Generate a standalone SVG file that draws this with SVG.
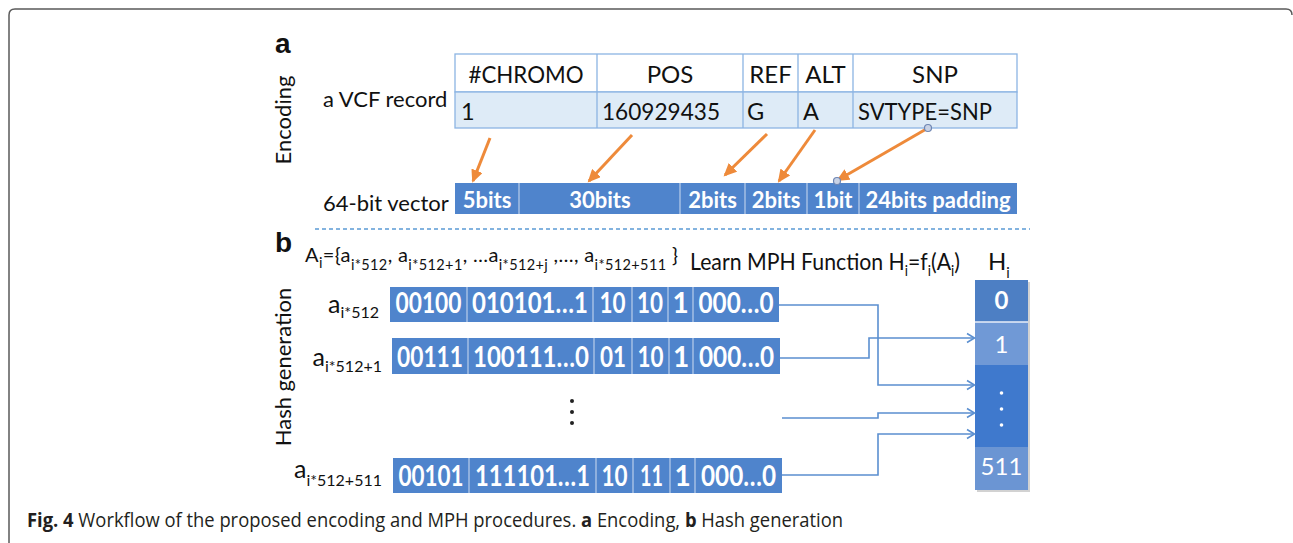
<svg xmlns="http://www.w3.org/2000/svg" width="1293" height="543" viewBox="0 0 1293 543">
<style>
text{font-family:Lato,"Open Sans","Liberation Sans",sans-serif;fill:#111}
.lab{font-size:22px}
.hdr{font-size:24px;text-anchor:middle}
.cell{font-size:23.5px}
.vb{font-size:22px;font-weight:700;fill:#fff;text-anchor:middle}
.rb{font-size:28px;font-weight:700;fill:#fff;text-anchor:middle}
.sub{font-size:14.5px}
.lsub{font-size:16px}
.bar{fill:#4f84cc}
.div{stroke:#b9cdea;stroke-width:1.2}
.conn{fill:none;stroke:#5b8fd0;stroke-width:1.6}
.orange{stroke:#EE8A3A;stroke-width:3;fill:none}
</style>
<defs>
<marker id="oa" markerWidth="14" markerHeight="12" refX="11" refY="6" orient="auto" markerUnits="userSpaceOnUse"><path d="M0,0 L13,6 L0,12 z" fill="#EE8A3A"/></marker>
<marker id="ba" markerWidth="12" markerHeight="12" refX="9" refY="6" orient="auto" markerUnits="userSpaceOnUse"><path d="M2,1.5 L9.5,6 L2,10.5" fill="none" stroke="#5b8fd0" stroke-width="1.6"/></marker>
</defs>
<rect width="1293" height="543" fill="#fff"/>
<path d="M9,543 V15 Q9,9 15,9 H1286 Q1292,9 1292,15" fill="none" stroke="#5a5a5a" stroke-width="1.5"/>

<text x="275" y="53" style="font-family:'Liberation Sans',Arial,sans-serif;font-weight:700;font-size:28px">a</text>
<text transform="translate(291,120) rotate(-90)" class="lab" text-anchor="middle">Encoding</text>
<text x="323" y="107" class="lab">a VCF record</text>
<text x="323" y="211" class="lab">64-bit vector</text>

<g id="vcf-table">
<rect x="455" y="54" width="562" height="38" fill="#fff" stroke="#8cb4e3" stroke-width="1.3"/>
<rect x="455" y="92" width="562" height="36" fill="#deebf7" stroke="#8cb4e3" stroke-width="1.3"/>
<path d="M597,54V128M743,54V128M798,54V128M853,54V128" stroke="#8cb4e3" stroke-width="1.3"/>
<text x="526" y="83" class="hdr" textLength="115" lengthAdjust="spacingAndGlyphs">#CHROMO</text>
<text x="670" y="83" class="hdr">POS</text>
<text x="770.5" y="83" class="hdr">REF</text>
<text x="825.5" y="83" class="hdr">ALT</text>
<text x="935" y="83" class="hdr">SNP</text>
<text x="461" y="120" class="cell">1</text>
<text x="602" y="120" class="cell" textLength="118" lengthAdjust="spacingAndGlyphs">160929435</text>
<text x="747" y="120" class="cell">G</text>
<text x="803" y="120" class="cell">A</text>
<text x="858" y="120" class="cell" textLength="134" lengthAdjust="spacingAndGlyphs">SVTYPE=SNP</text>
</g>

<g id="vector-64">
<rect x="455" y="183" width="562" height="31" class="bar"/>
<path d="M519,183V214M680,183V214M745,183V214M807,183V214M859,183V214" class="div"/>
<text x="487" y="208" class="vb">5bits</text>
<text x="600" y="208" class="vb">30bits</text>
<text x="712.5" y="208" class="vb">2bits</text>
<text x="776" y="208" class="vb">2bits</text>
<text x="833" y="208" class="vb">1bit</text>
<text x="938" y="208" class="vb">24bits padding</text>
</g>

<g id="encoding-arrows">
<line x1="490" y1="138" x2="473" y2="181" class="orange" marker-end="url(#oa)"/>
<line x1="632" y1="135" x2="589" y2="181" class="orange" marker-end="url(#oa)"/>
<line x1="767" y1="134" x2="725" y2="175" class="orange" marker-end="url(#oa)"/>
<line x1="815" y1="130" x2="779" y2="181" class="orange" marker-end="url(#oa)"/>
<line x1="928" y1="128" x2="838" y2="180" class="orange" marker-end="url(#oa)"/>
<circle cx="928" cy="128" r="3.5" fill="#c9d3e6" stroke="#6f86b3" stroke-width="1.2"/>
<circle cx="837" cy="181" r="3.5" fill="#c9d3e6" stroke="#6f86b3" stroke-width="1.2"/>
</g>

<line x1="315" y1="229" x2="1030" y2="229" stroke="#5b9bd5" stroke-width="1.3" stroke-dasharray="4,3"/>

<text x="275" y="252" style="font-family:'Liberation Sans',Arial,sans-serif;font-weight:700;font-size:28px">b</text>
<text transform="translate(291,367) rotate(-90)" class="lab" text-anchor="middle">Hash generation</text>

<text x="305" y="262" style="font-size:20px" textLength="373" lengthAdjust="spacing">A<tspan class="sub" dy="6">i</tspan><tspan dy="-6">={a</tspan><tspan class="sub" dy="8">i*512</tspan><tspan dy="-8">, a</tspan><tspan class="sub" dy="8">i*512+1</tspan><tspan dy="-8">, …a</tspan><tspan class="sub" dy="8">i*512+j</tspan><tspan dy="-8"> ,…, a</tspan><tspan class="sub" dy="8">i*512+511</tspan><tspan dy="-8"> }</tspan></text>
<text x="690" y="270" style="font-size:23px" textLength="270" lengthAdjust="spacingAndGlyphs">Learn MPH Function H<tspan class="sub" dy="6">i</tspan><tspan dy="-6">=f</tspan><tspan class="sub" dy="6">i</tspan><tspan dy="-6">(A</tspan><tspan class="sub" dy="6">i</tspan><tspan dy="-6">)</tspan></text>
<text x="988" y="270" style="font-size:24px">H<tspan class="sub" dy="8">i</tspan></text>

<g id="row-0">
<text x="379" y="313" text-anchor="end" style="font-size:25px">a<tspan class="lsub" dy="5">i*512</tspan></text>
<rect x="390" y="287" width="389" height="35" class="bar"/>
<path d="M467,287V322M593,287V322M632,287V322M668,287V322M693,287V322" class="div"/>
<text x="428.5" y="313" class="rb" textLength="66" lengthAdjust="spacingAndGlyphs">00100</text>
<text x="530" y="313" class="rb" textLength="116" lengthAdjust="spacingAndGlyphs">010101…1</text>
<text x="612.5" y="313" class="rb" textLength="26" lengthAdjust="spacingAndGlyphs">10</text>
<text x="650" y="313" class="rb" textLength="26" lengthAdjust="spacingAndGlyphs">10</text>
<text x="680.5" y="313" class="rb">1</text>
<text x="736" y="313" class="rb" textLength="75" lengthAdjust="spacingAndGlyphs">000…0</text>
</g>

<g id="row-1">
<text x="382" y="366" text-anchor="end" style="font-size:25px">a<tspan class="lsub" dy="6">i*512+1</tspan></text>
<rect x="392" y="338" width="388" height="36" class="bar"/>
<path d="M468,338V374M594,338V374M632,338V374M669,338V374M693,338V374" class="div"/>
<text x="430" y="367" class="rb" textLength="66" lengthAdjust="spacingAndGlyphs">00111</text>
<text x="531" y="367" class="rb" textLength="116" lengthAdjust="spacingAndGlyphs">100111…0</text>
<text x="613" y="367" class="rb" textLength="26" lengthAdjust="spacingAndGlyphs">01</text>
<text x="650.5" y="367" class="rb" textLength="26" lengthAdjust="spacingAndGlyphs">10</text>
<text x="681" y="367" class="rb">1</text>
<text x="736.5" y="367" class="rb" textLength="75" lengthAdjust="spacingAndGlyphs">000…0</text>
</g>

<g id="ellipsis">
<circle cx="572" cy="401" r="2" fill="#222"/>
<circle cx="572" cy="412" r="2" fill="#222"/>
<circle cx="572" cy="423" r="2" fill="#222"/>
</g>

<g id="row-511">
<text x="382" y="478" text-anchor="end" style="font-size:25px">a<tspan class="lsub" dy="8">i*512+511</tspan></text>
<rect x="393" y="458" width="389" height="35" class="bar"/>
<path d="M469,458V493M596,458V493M633,458V493M670,458V493M695,458V493" class="div"/>
<text x="431" y="486" class="rb" textLength="65" lengthAdjust="spacingAndGlyphs">00101</text>
<text x="532.5" y="486" class="rb" textLength="115" lengthAdjust="spacingAndGlyphs">111101…1</text>
<text x="614.5" y="486" class="rb" textLength="26" lengthAdjust="spacingAndGlyphs">10</text>
<text x="651.5" y="486" class="rb" textLength="23" lengthAdjust="spacingAndGlyphs">11</text>
<text x="682.5" y="486" class="rb">1</text>
<text x="738.5" y="486" class="rb" textLength="75" lengthAdjust="spacingAndGlyphs">000…0</text>
</g>

<g id="hash-table">
<rect x="977" y="282" width="53" height="210" fill="#d2d2d2"/>
<rect x="975" y="280" width="53" height="42" fill="#4d7fc4"/>
<rect x="975" y="322" width="53" height="43" fill="#7099d6"/>
<rect x="975" y="365" width="53" height="82" fill="#3f79cd"/>
<rect x="975" y="447" width="53" height="43" fill="#6b95d3"/>
<line x1="975" y1="322" x2="1028" y2="322" stroke="#e8eef8" stroke-width="1.5"/>
<text x="1001.5" y="309" text-anchor="middle" style="font-size:24px;font-weight:700;fill:#fff">0</text>
<text x="1001.5" y="353" text-anchor="middle" style="font-size:24px;fill:#fff">1</text>
<circle cx="1001.5" cy="393" r="1.8" fill="#fff"/>
<circle cx="1001.5" cy="409" r="1.8" fill="#fff"/>
<circle cx="1001.5" cy="425" r="1.8" fill="#fff"/>
<text x="1001.5" y="475" text-anchor="middle" style="font-size:24px;fill:#fff">511</text>
</g>

<g id="connectors">
<path d="M779,305 H878 V385 H974" class="conn" marker-end="url(#ba)"/>
<path d="M780,358 H869 V338 H974" class="conn" marker-end="url(#ba)"/>
<path d="M782,418 H878 V413 H974" class="conn" marker-end="url(#ba)"/>
<path d="M782,475 H878 V434 H974" class="conn" marker-end="url(#ba)"/>
</g>

<text x="27" y="527" textLength="816" lengthAdjust="spacingAndGlyphs" style="font-family:'Open Sans','Noto Sans',sans-serif;font-size:20px;fill:#231f20"><tspan style="font-weight:700">Fig. 4</tspan> Workflow of the proposed encoding and MPH procedures. <tspan style="font-weight:700">a</tspan> Encoding, <tspan style="font-weight:700">b</tspan> Hash generation</text>
</svg>
